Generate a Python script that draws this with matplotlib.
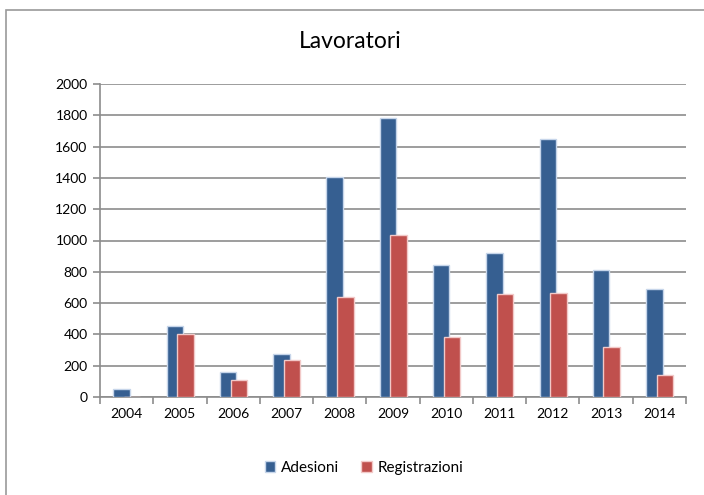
import numpy as np
import matplotlib.pyplot as plt
from matplotlib.patches import Rectangle

plt.rcParams['font.family'] = ['Lato', 'DejaVu Sans']

anni = ['2004', '2005', '2006', '2007', '2008', '2009', '2010', '2011', '2012', '2013', '2014']
adesioni = [50, 455, 160, 272, 1405, 1785, 843, 920, 1648, 810, 690]
registrazioni = [0, 405, 107, 236, 640, 1038, 383, 657, 664, 318, 143]

blu = '#365F91'
rosso = '#C0504D'
grigio = '#8C8C8C'

fig = plt.figure(figsize=(7.04, 4.95), dpi=100)
ax = fig.add_axes([100/704, 1-397/495, 586/704, 313/495])

x = np.arange(len(anni))
w = 0.31
ax.bar(x - 0.095, adesioni, w, color=blu, edgecolor='#C6D5EA', linewidth=1.0, zorder=3, label='Adesioni')
ax.bar(x + 0.105, registrazioni, w, color=rosso, edgecolor='#F2C9C8', linewidth=1.0, zorder=4, label='Registrazioni')

ax.set_xlim(-0.5, len(anni) - 0.5)
ax.set_ylim(0, 2000)
ax.set_yticks(range(0, 2001, 200))
ax.set_xticks(x)
ax.set_xticklabels(anni)
ax.set_xticks(np.arange(-0.5, len(anni), 1), minor=True)
ax.tick_params(axis='x', which='major', length=0, labelsize=10, pad=8)
ax.tick_params(axis='x', which='minor', length=5, color=grigio, width=1.2)
ax.tick_params(axis='y', length=5, color=grigio, width=1.2, labelsize=10, pad=4)
ax.yaxis.grid(True, color=grigio, linewidth=1.2, zorder=0)
ax.set_axisbelow(True)
for s in ['top', 'right']:
    ax.spines[s].set_visible(False)
for s in ['left', 'bottom']:
    ax.spines[s].set_color(grigio)
    ax.spines[s].set_linewidth(1.2)

fig.text(350/704, 1-42/495, 'Lavoratori', ha='center', va='center', fontsize=16.5)

fig.legend(loc='center', bbox_to_anchor=(364/704, 1-468/495), ncol=2, frameon=False,
           fontsize=11, handlelength=0.7, handleheight=0.7, columnspacing=1.4, handletextpad=0.4)

fig.patches.append(Rectangle((6/704, -0.05), 1.0, 1-10/495+0.05, transform=fig.transFigure,
                             fill=False, edgecolor='#9A9A9A', linewidth=1.2))

fig.savefig('out.png', dpi=100)
